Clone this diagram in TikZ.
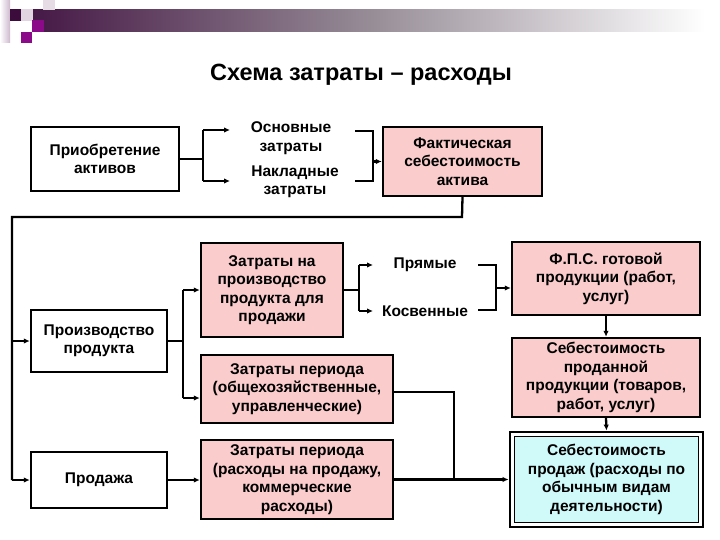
\documentclass[tikz,border=0pt]{standalone}
\usepackage{fontspec}
\setmainfont{Liberation Sans}
\usetikzlibrary{arrows.meta}
\definecolor{pinkf}{RGB}{250,204,204}
\definecolor{cyanf}{RGB}{208,250,250}
\definecolor{hdark}{RGB}{70,25,70}
\definecolor{hmid}{RGB}{150,140,150}
\definecolor{hsq}{RGB}{60,12,60}
\definecolor{hmag}{RGB}{138,10,138}
\definecolor{hpale}{RGB}{205,185,205}
\begin{document}
\begin{tikzpicture}[x=1pt,y=-1pt,
  txt/.style={align=center, inner sep=0pt, font=\bfseries\fontsize{15.5}{18.5}\selectfont},
  box/.style={txt, draw=black, line width=2.4pt},
  pbox/.style={box, fill=pinkf},
  conn/.style={line width=2.3pt},
  arr/.style={conn, -{Latex[length=6pt,width=5.5pt]}},
]
\useasboundingbox[fill=white] (0,0) rectangle (720,540);
% header decoration
\shade[left color=white, right color=hpale] (0,0) rectangle (10,43);
\shade[left color=hdark, right color=white, middle color=hmid] (33,10) rectangle (705,32);
\fill[hsq] (10,9) rectangle (21,21);
\fill[hpale!60] (21,9) rectangle (33,21);
\fill[hmag] (32,20) rectangle (44,32);
\fill[hmag] (21,32) rectangle (32,43);
\fill[hpale!50] (43,0) rectangle (55,10);
% title
\node[font=\bfseries\fontsize{23.5}{26}\selectfont, inner sep=0pt] (title) at (361,75) {Схема затраты – расходы};
% boxes
\node[box, minimum width=148pt, minimum height=64pt] (acq) at (105,159) {Приобретение\\активов};
\node[txt] (osn) at (291,138) {Основные\\затраты};
\node[txt] (nakl) at (295,182) {Накладные\\затраты};
\node[pbox, minimum width=159pt, minimum height=69pt] (fact) at (462.5,161.5) {Фактическая\\себестоимость\\актива};
\node[box, minimum width=136pt, minimum height=62pt] (prod) at (99,341) {Производство\\продукта};
\node[pbox, minimum width=142pt, minimum height=94pt] (zpp) at (272,290) {Затраты на\\производство\\продукта для\\продажи};
\node[txt] (pr) at (425,265) {Прямые};
\node[txt] (kos) at (425,311) {Косвенные};
\node[pbox, minimum width=188pt, minimum height=73pt] (fps) at (606,278.5) {Ф.П.С. готовой\\продукции (работ,\\услуг)};
\node[pbox, minimum width=188pt, minimum height=79pt] (spp) at (606,377.5) {Себестоимость\\проданной\\продукции (товаров,\\работ, услуг)};
\node[box, line width=2.8pt, fill=white, minimum width=193pt, minimum height=95pt,
  path picture={\draw[fill=cyanf, line width=1.2pt] ([shift={(4.5pt,-4.5pt)}]path picture bounding box.north west) rectangle ([shift={(-4.5pt,4.5pt)}]path picture bounding box.south east);}]
  (sp) at (606.5,479.5) {Себестоимость\\продаж (расходы по\\обычным видам\\деятельности)};
\node[pbox, minimum width=192pt, minimum height=68pt] (zp1) at (297,389) {Затраты периода\\(общехозяйственные,\\управленческие)};
\node[pbox, minimum width=192pt, minimum height=79pt] (zp2) at (297,479.5) {Затраты периода\\(расходы на продажу,\\коммерческие\\расходы)};
\node[box, minimum width=136pt, minimum height=56pt] (sale) at (99,480) {Продажа};
% connectors: acquisition
\coordinate (a1) at (203,159);
\coordinate (a2) at (203,130);
\coordinate (a3) at (203,181);
\coordinate (a2e) at (230,130);
\coordinate (a3e) at (230,181);
\draw[conn] (acq.east) -- (a1);
\draw[conn] (a2) -- (a3);
\draw[arr] (a2) -- (a2e);
\draw[arr] (a3) -- (a3e);
% bracket to fact
\coordinate (b1) at (355,131);
\coordinate (b2) at (373,131);
\coordinate (b3) at (373,181);
\coordinate (b4) at (355,181);
\coordinate (b5) at (373,161.5);
\draw[conn] (b1) -- (b2) -- (b3) -- (b4);
\draw[arr] (b5) -- (fact.west);
% big loop
\coordinate (t1) at (462,217);
\coordinate (l1) at (12,217);
\coordinate (l2) at (12,341);
\coordinate (l3) at (12,480);
\draw[conn] (fact.south) -- (t1) -- (l1) -- (l3);
\draw[arr] (l2) -- (prod.west);
\draw[arr] (l3) -- (sale.west);
% production branch
\coordinate (p1) at (183,341);
\coordinate (p2) at (183,290);
\coordinate (p3) at (183,398);
\draw[conn] (prod.east) -- (p1);
\draw[conn] (p2) -- (p3);
\draw[arr] (p2) -- (zpp.west);
\draw[arr] (p3) -- (zp1.west |- p3);
% direct / indirect
\coordinate (q1) at (359,290);
\coordinate (q2) at (359,265);
\coordinate (q3) at (359,311);
\coordinate (q2e) at (373,265);
\coordinate (q3e) at (373,311);
\draw[conn] (zpp.east) -- (q1);
\draw[conn] (q2) -- (q3);
\draw[arr] (q2) -- (q2e);
\draw[arr] (q3) -- (q3e);
\coordinate (r1) at (478,265);
\coordinate (r2) at (496,265);
\coordinate (r3) at (496,310);
\coordinate (r4) at (478,310);
\coordinate (r5) at (496,288);
\draw[conn] (r1) -- (r2) -- (r3) -- (r4);
\draw[arr] (r5) -- (fps.west |- r5);
% right column
\draw[arr] (fps.south) -- (spp.north);
\draw[arr] (spp.south) -- (sp.north);
% period costs
\coordinate (s1) at (454,392);
\coordinate (s2) at (454,479.5);
\draw[conn] (zp1.east |- s1) -- (s1) -- (s2);
\draw[arr] (zp2.east) -- (sp.west);
\draw[arr] (sale.east) -- (zp2.west |- sale.east);
\end{tikzpicture}
\end{document}
